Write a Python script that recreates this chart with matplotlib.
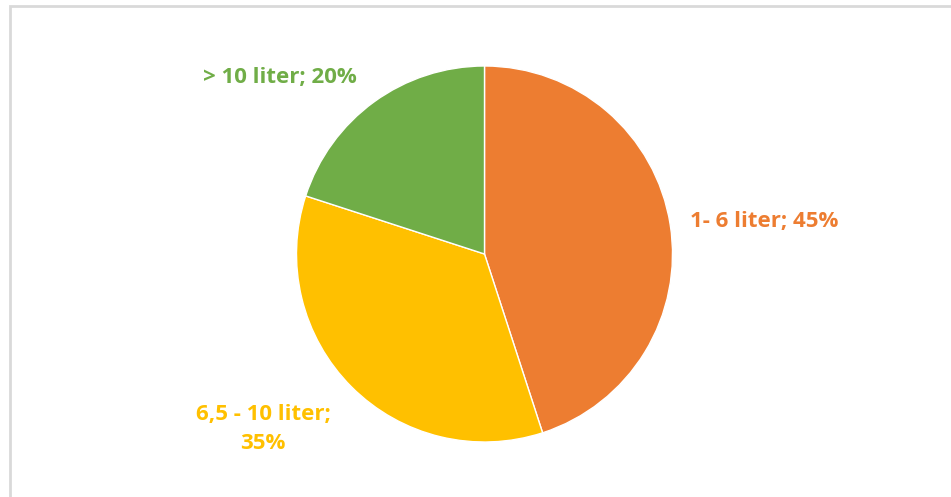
import matplotlib.pyplot as plt
from matplotlib.patches import Rectangle

# Данные
categories = ["1- 6 liter", "6,5 - 10 liter", "> 10 liter"]
shares = [45, 35, 20]
colors = ["#ED7D31", "#FFC000", "#70AD47"]

W, H = 951, 497
fig = plt.figure(figsize=(W / 100, H / 100), dpi=100)
ax = fig.add_axes([0, 0, 1, 1])

# Рамка вокруг диаграммы
fig.patches.append(Rectangle((10 / W, -0.05), 1.2, 1 - 6 / H + 0.05,
                             transform=fig.transFigure, fill=False,
                             edgecolor="#D9D9D9", linewidth=2))

ax.pie(shares, colors=colors, startangle=90, counterclock=False,
       center=(484.5, H - 254), radius=188, frame=True,
       wedgeprops=dict(edgecolor="white", linewidth=1))
ax.set_xlim(0, W)
ax.set_ylim(0, H)
ax.set_aspect("equal")
ax.axis("off")

# Подписи
font = dict(family=["Open Sans", "DejaVu Sans"], weight="bold", fontsize=16)
label_pos = [(764, 222), (263, 429), (280, 77)]
for (x, y), cat, val, col in zip(label_pos, categories, shares, colors):
    if cat.startswith("6,5"):
        txt = f"{cat};\n{val}%"
    else:
        txt = f"{cat}; {val}%"
    ax.text(x, H - y, txt, color=col, ha="center", va="center",
            linespacing=1.5, **font)

fig.savefig("out.png", dpi=100)
